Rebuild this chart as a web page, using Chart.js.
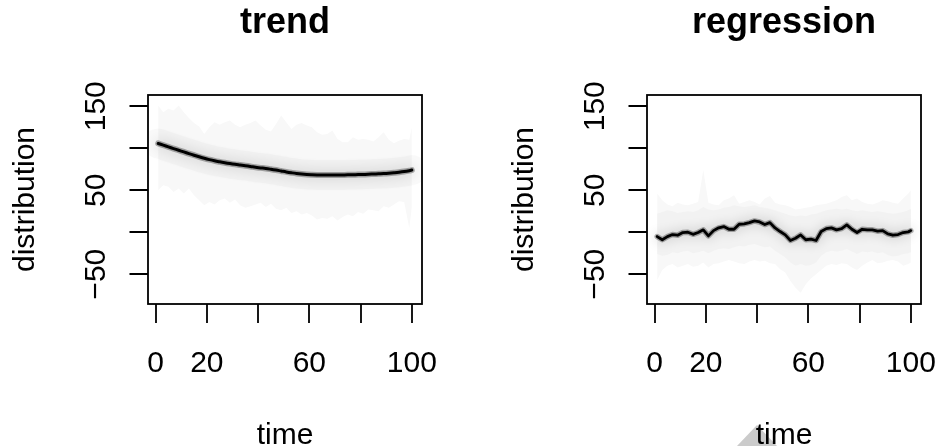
<!DOCTYPE html>
<html>
<head>
<meta charset="utf-8">
<script src="https://cdn.jsdelivr.net/npm/chart.js@4.4.1/dist/chart.umd.min.js"></script>
<style>
  html, body { margin: 0; padding: 0; background: #fff; }
  #wrap { position: relative; width: 940px; height: 446px; overflow: hidden; }
  #wrap canvas { position: absolute; top: 0; }
  #trendChart { left: 0; }
  #regChart { left: 470px; }
  .fold {
    position: absolute; left: 737px; top: 425px; width: 40px; height: 21px;
    background: #cbcbcb; clip-path: polygon(0 100%, 50% 0, 100% 100%);
  }
</style>
</head>
<body>
<div id="wrap">
  <div class="fold"></div>
  <canvas id="trendChart" width="470" height="446"></canvas>
  <canvas id="regChart" width="470" height="446"></canvas>
</div>
<script>
// time grid shared by every series
const time = [1, 3, 5, 7, 9, 11, 13, 15, 17, 19, 21, 23, 25, 27, 29, 31, 33, 35, 37, 39,
  41, 43, 45, 47, 49, 51, 53, 55, 57, 59, 61, 63, 65, 67, 69, 71, 73, 75, 77, 79,
  81, 83, 85, 87, 89, 91, 93, 95, 97, 99, 100];

// trend component: posterior median and outer quantile envelope
const trendMedian = [105.7, 103.7, 101.6, 99.6, 97.6, 95.6, 93.6, 91.7, 89.8, 88.0,
  86.4, 85.0, 83.8, 82.7, 81.7, 80.8, 80.0, 79.2, 78.3, 77.3,
  76.6, 75.9, 75.0, 74.0, 72.9, 71.8, 70.8, 69.9, 69.2, 68.7,
  68.4, 68.2, 68.1, 68.0, 68.0, 68.1, 68.2, 68.3, 68.5, 68.6,
  68.8, 69.0, 69.3, 69.6, 69.9, 70.3, 70.8, 71.4, 72.2, 73.3, 74.0];
const trendUpper = [151, 143, 147, 145, 151, 143, 136, 130, 126, 117,
  125, 131, 128, 131, 133, 128, 125, 128, 130, 133,
  127, 122, 120, 129, 139, 131, 123, 128, 130, 127,
  125, 119, 116, 117, 121, 111, 107, 107, 113, 110,
  111, 110, 108, 113, 119, 110, 106, 109, 111, 110, 125];
const trendLower = [50, 56, 54, 48, 52, 46, 52, 44, 38, 32,
  36, 33, 38, 40, 35, 39, 32, 29, 31, 33,
  35, 30, 34, 28, 26, 29, 23, 25, 21, 23,
  20, 15, 17, 16, 19, 14, 18, 21, 19, 24,
  22, 27, 26, 25, 31, 29, 33, 37, 36, 5, 30];

// regression component
const regMedian = [-5.2, -9.0, -5.2, -2.8, -3.6, -0.4, 0.0, -2.5, -0.4, 2.8,
  -4.4, 1.9, 5.2, 6.7, 3.5, 3.5, 9.5, 9.9, 11.4, 13.4,
  12.2, 9.1, 11.4, 5.1, 0.8, -3.2, -9.9, -7.2, -3.2, -9.0,
  -8.3, -9.9, 0.8, 4.3, 5.1, 2.8, 4.3, 8.7, 3.5, -0.4,
  3.5, 2.8, 2.8, 1.2, 1.9, -2.0, -3.6, -2.8, -0.4, 0.4, 1.9];
const regUpper = [46, 38, 33, 31, 35, 33, 32, 34, 36, 74,
  35, 33, 32, 38, 40, 44, 34, 36, 38, 36,
  33, 40, 43, 35, 33, 32, 30, 27, 28, 29,
  30, 32, 33, 34, 36, 38, 42, 44, 38, 40,
  36, 34, 33, 35, 38, 37, 35, 34, 40, 46, 50];
const regLower = [-57, -45, -40, -38, -42, -40, -38, -41, -40, -36,
  -42, -38, -37, -35, -33, -35, -37, -38, -35, -33,
  -35, -34, -37, -38, -44, -48, -58, -66, -72, -62,
  -55, -50, -45, -40, -38, -39, -37, -38, -42, -45,
  -40, -36, -33, -37, -36, -34, -33, -35, -40, -38, -36];
const regMidUpper = [22, 24, 26, 25, 23, 24, 25, 24, 26, 30,
  27, 26, 27, 29, 30, 32, 31, 30, 31, 32,
  30, 29, 28, 26, 24, 22, 20, 19, 20, 19,
  21, 22, 24, 26, 27, 28, 27, 28, 26, 25,
  26, 25, 24, 25, 24, 23, 22, 23, 24, 26, 28];
const regMidLower = [-26, -28, -27, -24, -25, -23, -22, -25, -24, -22,
  -25, -22, -20, -19, -20, -18, -16, -17, -15, -14,
  -16, -18, -17, -22, -26, -30, -36, -40, -38, -40,
  -39, -36, -28, -24, -22, -23, -22, -20, -23, -26,
  -23, -24, -23, -25, -24, -27, -29, -28, -26, -25, -24];

// axes
const xTicks = [0, 20, 40, 60, 80, 100];
const xTickLabels = ['0', '20', '', '60', '', '100'];
const yTicks = [-50, 0, 50, 100, 150];
const yTickLabels = ['\u221250', '', '50', '', '150'];

const FONT = '"Liberation Sans", Arial, Helvetica, sans-serif';

const pts = (vals) => vals.map((v, i) => ({ x: time[i], y: v }));

function band(upper, lower, color, order) {
  return [
    { data: pts(upper), fill: '+1', backgroundColor: color, borderWidth: 0,
      pointRadius: 0, tension: 0, order },
    { data: pts(lower), fill: false, borderWidth: 0, pointRadius: 0, tension: 0, order },
  ];
}

// median line; `glow` is a blur radius used for the soft density halo
function line(vals, width, color, tension, order, glow) {
  return { data: pts(vals), fill: false, borderColor: color, borderWidth: width,
    borderCapStyle: 'round', borderJoinStyle: 'round', pointRadius: 0, tension, order, glow };
}

const glowPlugin = {
  id: 'glow',
  beforeDatasetDraw(chart, args) {
    const g = chart.data.datasets[args.index].glow;
    if (!g) return;
    chart.ctx.save();
    chart.ctx.shadowColor = g.color;
    chart.ctx.shadowBlur = g.blur;
  },
  afterDatasetDraw(chart, args) {
    if (chart.data.datasets[args.index].glow) chart.ctx.restore();
  }
};

// box, ticks and labels in base-graphics style
const rFrame = {
  id: 'rFrame',
  afterDraw(chart, args, opts) {
    const { ctx, chartArea: a, scales: { x, y } } = chart;
    const cx = (a.left + a.right) / 2;
    const cy = (a.top + a.bottom) / 2;
    ctx.save();
    ctx.strokeStyle = '#000';
    ctx.lineWidth = 1.8;
    ctx.strokeRect(a.left, a.top, a.right - a.left, a.bottom - a.top);
    ctx.beginPath();
    xTicks.forEach(v => {
      const px = Math.round(x.getPixelForValue(v));
      ctx.moveTo(px, a.bottom);
      ctx.lineTo(px, a.bottom + 19);
    });
    yTicks.forEach(v => {
      const py = Math.round(y.getPixelForValue(v));
      ctx.moveTo(a.left, py);
      ctx.lineTo(a.left - 18.5, py);
    });
    ctx.stroke();

    ctx.fillStyle = '#000';
    ctx.textAlign = 'center';
    ctx.textBaseline = 'alphabetic';
    ctx.font = '30px ' + FONT;
    xTickLabels.forEach((s, i) => {
      if (s) ctx.fillText(s, x.getPixelForValue(xTicks[i]), 372);
    });
    ctx.fillText('time', cx, 444);
    yTickLabels.forEach((s, i) => {
      if (!s) return;
      ctx.save();
      ctx.translate(a.left - 43, y.getPixelForValue(yTicks[i]));
      ctx.rotate(-Math.PI / 2);
      ctx.fillText(s, 0, 0);
      ctx.restore();
    });
    ctx.save();
    ctx.translate(a.left - 114.5, cy);
    ctx.rotate(-Math.PI / 2);
    ctx.fillText('distribution', 0, 0);
    ctx.restore();

    ctx.font = 'bold 36px ' + FONT;
    ctx.fillText(opts.title, cx, 33);
    ctx.restore();
  }
};

function makeChart(id, title, datasets, padLeft, padRight) {
  return new Chart(document.getElementById(id), {
    type: 'line',
    data: { datasets },
    options: {
      responsive: false,
      animation: false,
      events: [],
      layout: { padding: { left: padLeft, top: 95, right: padRight, bottom: 142 } },
      scales: {
        x: { type: 'linear', display: false, min: -2.96, max: 103.96 },
        y: { type: 'linear', display: false, min: -85.5, max: 163.4 },
      },
      plugins: {
        legend: { display: false },
        tooltip: { enabled: false },
        rFrame: { title },
      },
    },
    plugins: [glowPlugin, rFrame],
  });
}

makeChart('trendChart', 'trend', [
  line(trendMedian, 3, '#000', 0.4, 1),
  line(trendMedian, 6, 'rgba(0,0,0,0.3)', 0.4, 2, { color: 'rgba(0,0,0,0.6)', blur: 14 }),
  line(trendMedian, 30, 'rgba(0,0,0,0.025)', 0.4, 5),
  ...band(trendUpper, trendLower, '#f8f8f8', 10),
], 148, 48);

makeChart('regChart', 'regression', [
  line(regMedian, 2.8, '#000', 0, 1),
  line(regMedian, 5.5, 'rgba(0,0,0,0.3)', 0, 2, { color: 'rgba(0,0,0,0.6)', blur: 12 }),
  ...band(regMidUpper, regMidLower, '#f2f2f2', 9),
  ...band(regUpper, regLower, '#f8f8f8', 10),
], 177, 19);
</script>
</body>
</html>
